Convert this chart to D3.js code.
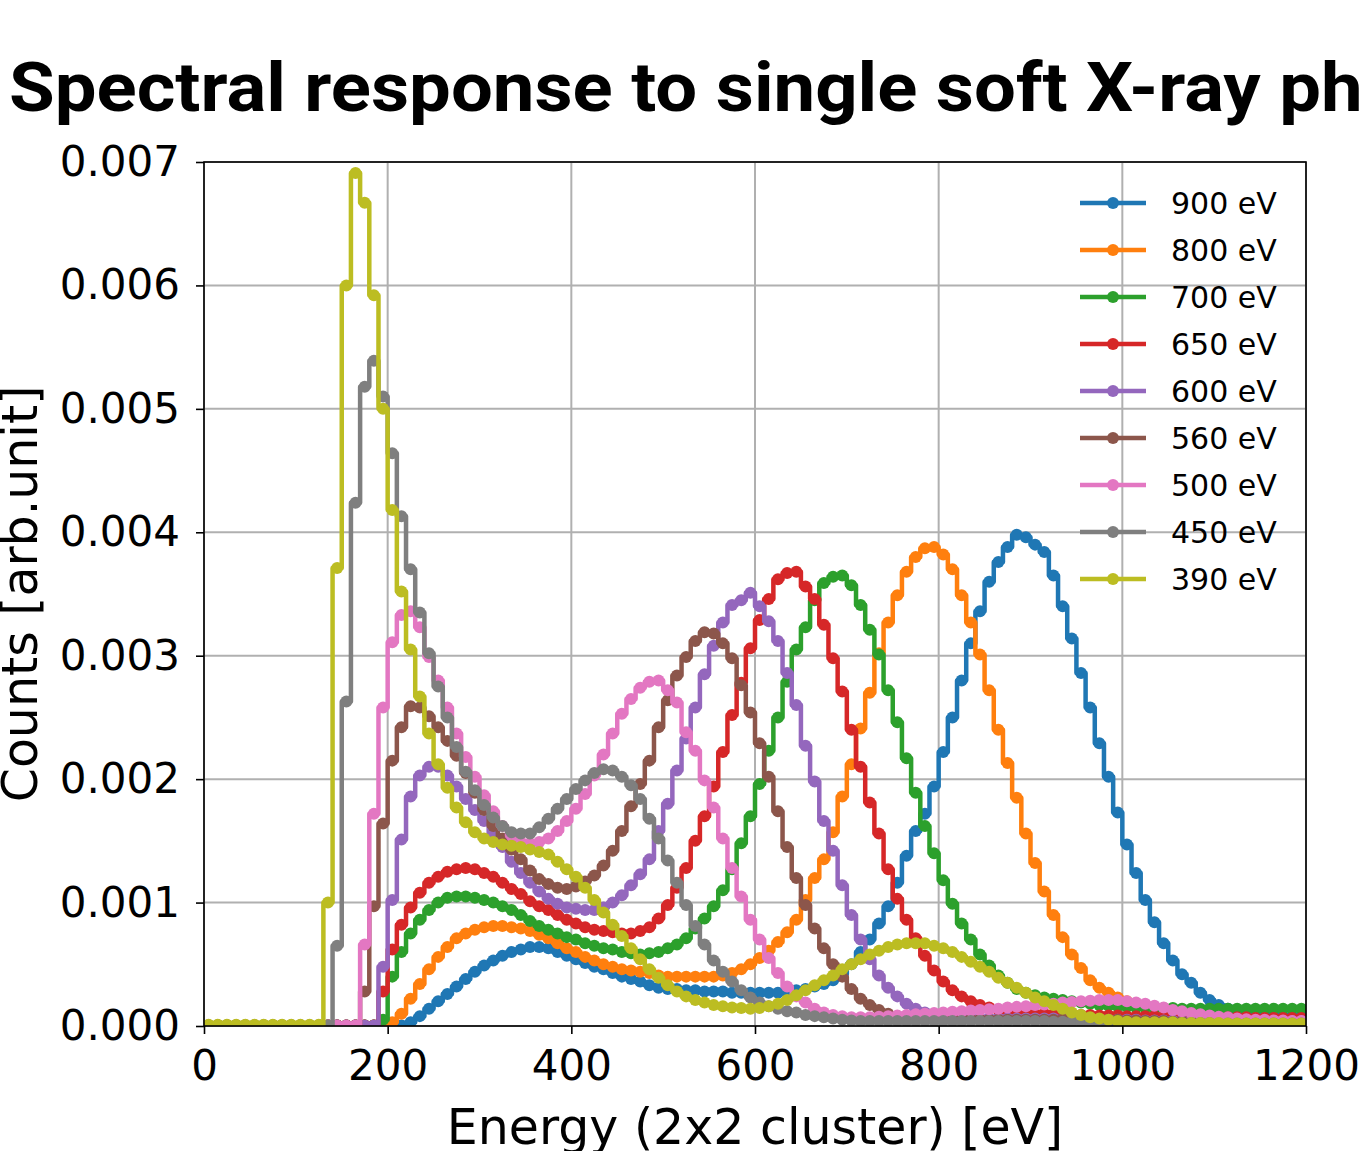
<!DOCTYPE html>
<html>
<head>
<meta charset="utf-8">
<title>Spectral response to single soft X-ray photons</title>
<style>
  body { margin: 0; background: #fff; }
  svg { display: block; font-family: "DejaVu Sans", sans-serif; }
  .grid line { stroke: #b0b0b0; stroke-width: 2; }
  .axis path { display: none; }
  .axis line { stroke: #000; stroke-width: 1.6; }
  .axis text { font-family: "DejaVu Sans", sans-serif; font-size: 42px; fill: #000; }
  .frame { fill: none; stroke: #000; stroke-width: 1.6; }
  .series path { fill: none; stroke-width: 4.5; stroke-linejoin: round; }
  .legend text { font-size: 30px; fill: #000; }
  .title { font-family: Roboto, "Open Sans", sans-serif; font-weight: 700; font-size: 68px; }
</style>
</head>
<body>
<svg width="1360" height="1151"></svg>
<script src="https://cdn.jsdelivr.net/npm/d3@7"></script>
<script>
// 10 eV bins from 0 to 1200 eV, counts given in units of 1e-3
const binWidth = 10;
const energyMax = 1200;
const labels = ['900 eV', '800 eV', '700 eV', '650 eV', '600 eV', '560 eV', '500 eV', '450 eV', '390 eV'];
const colors = ['#1f77b4', '#ff7f0e', '#2ca02c', '#d62728', '#9467bd', '#8c564b', '#e377c2', '#7f7f7f', '#bcbd22'];
const xTicks = [0, 200, 400, 600, 800, 1000, 1200];
const yTicks = [0, 0.001, 0.002, 0.003, 0.004, 0.005, 0.006, 0.007];

const s900 = [
  0.005,0.005,0.005,0.005,0.005,0.005,0.005,0.005,0.005,0.005,
  0.005,0.005,0.005,0.005,0.005,0.005,0.005,0.005,0.005,0.005,
  0.005,0.005,0.03,0.08,0.14,0.20,0.26,0.32,0.38,0.44,
  0.49,0.53,0.57,0.60,0.62,0.64,0.64,0.63,0.60,0.57,
  0.54,0.51,0.48,0.46,0.43,0.40,0.38,0.36,0.33,0.31,
  0.30,0.30,0.29,0.29,0.28,0.28,0.28,0.27,0.27,0.27,
  0.27,0.27,0.27,0.28,0.29,0.30,0.32,0.34,0.37,0.42,
  0.50,0.60,0.70,0.83,0.97,1.16,1.38,1.58,1.72,1.94,
  2.22,2.50,2.80,3.10,3.36,3.60,3.76,3.88,3.98,3.96,
  3.90,3.84,3.65,3.40,3.14,2.86,2.58,2.29,2.02,1.73,
  1.47,1.24,1.02,0.84,0.67,0.53,0.42,0.35,0.27,0.21,
  0.17,0.14,0.12,0.11,0.10,0.09,0.09,0.08,0.08,0.08
];
const s800 = [
  0.005,0.005,0.005,0.005,0.005,0.005,0.005,0.005,0.005,0.005,
  0.005,0.005,0.005,0.005,0.005,0.005,0.005,0.005,0.005,0.005,
  0.03,0.10,0.22,0.34,0.46,0.56,0.64,0.71,0.75,0.78,
  0.80,0.81,0.81,0.80,0.79,0.77,0.74,0.71,0.67,0.63,
  0.60,0.56,0.53,0.50,0.48,0.46,0.45,0.44,0.43,0.41,
  0.40,0.40,0.40,0.40,0.40,0.40,0.41,0.43,0.46,0.50,
  0.55,0.61,0.68,0.76,0.86,1.02,1.20,1.35,1.57,1.86,
  2.12,2.41,2.70,3.02,3.27,3.49,3.68,3.80,3.87,3.88,
  3.82,3.70,3.49,3.27,3.01,2.72,2.40,2.13,1.85,1.56,
  1.32,1.09,0.90,0.72,0.58,0.47,0.37,0.31,0.27,0.23,
  0.20,0.17,0.15,0.12,0.10,0.09,0.08,0.07,0.06,0.055,
  0.05,0.05,0.05,0.045,0.045,0.045,0.04,0.04,0.04,0.04
];
const s700 = [
  0.005,0.005,0.005,0.005,0.005,0.005,0.005,0.005,0.005,0.005,
  0.005,0.005,0.005,0.005,0.005,0.005,0.005,0.005,0.005,0.05,
  0.40,0.60,0.75,0.86,0.94,1.00,1.04,1.05,1.05,1.04,
  1.02,1.00,0.97,0.94,0.90,0.85,0.81,0.78,0.75,0.72,
  0.70,0.67,0.65,0.63,0.62,0.60,0.59,0.58,0.59,0.60,
  0.63,0.66,0.71,0.79,0.87,0.97,1.10,1.27,1.48,1.70,
  1.96,2.23,2.50,2.79,3.05,3.23,3.45,3.59,3.64,3.65,
  3.57,3.41,3.21,3.01,2.72,2.46,2.17,1.89,1.62,1.40,
  1.18,0.99,0.83,0.70,0.58,0.49,0.41,0.35,0.30,0.27,
  0.25,0.23,0.22,0.21,0.20,0.19,0.18,0.17,0.165,0.16,
  0.155,0.15,0.15,0.145,0.145,0.145,0.14,0.14,0.14,0.14,
  0.14,0.14,0.14,0.14,0.14,0.14,0.14,0.14,0.14,0.14
];
const s650 = [
  0.005,0.005,0.005,0.005,0.005,0.005,0.005,0.005,0.005,0.005,
  0.005,0.005,0.005,0.005,0.005,0.005,0.005,0.005,0.005,0.28,
  0.62,0.82,0.96,1.08,1.16,1.21,1.25,1.27,1.28,1.27,
  1.24,1.21,1.16,1.11,1.07,1.01,0.97,0.94,0.90,0.86,
  0.83,0.80,0.78,0.77,0.76,0.75,0.75,0.77,0.80,0.87,
  0.98,1.12,1.28,1.50,1.70,1.94,2.22,2.52,2.78,3.06,
  3.29,3.46,3.62,3.67,3.68,3.56,3.46,3.25,2.98,2.71,
  2.40,2.10,1.81,1.56,1.27,1.03,0.86,0.71,0.57,0.45,
  0.36,0.29,0.24,0.20,0.17,0.15,0.13,0.12,0.11,0.105,
  0.10,0.10,0.095,0.095,0.09,0.09,0.09,0.085,0.085,0.085,
  0.08,0.08,0.08,0.08,0.075,0.075,0.075,0.075,0.07,0.07,
  0.07,0.07,0.07,0.07,0.065,0.065,0.065,0.065,0.065,0.065
];
const s600 = [
  0.005,0.005,0.005,0.005,0.005,0.005,0.005,0.005,0.005,0.005,
  0.005,0.005,0.005,0.005,0.005,0.005,0.005,0.005,0.005,0.48,
  1.02,1.51,1.86,2.03,2.10,2.10,2.03,1.94,1.84,1.75,
  1.66,1.56,1.45,1.33,1.24,1.16,1.09,1.03,0.99,0.96,
  0.95,0.94,0.94,0.96,1.00,1.06,1.14,1.23,1.35,1.58,
  1.80,2.07,2.33,2.58,2.85,3.08,3.27,3.41,3.45,3.51,
  3.40,3.28,3.12,2.86,2.60,2.27,1.98,1.66,1.42,1.14,
  0.90,0.70,0.54,0.41,0.31,0.24,0.18,0.14,0.11,0.09,
  0.07,0.06,0.06,0.06,0.06,0.06,0.06,0.06,0.06,0.06,
  0.06,0.06,0.06,0.055,0.055,0.055,0.05,0.05,0.05,0.05,
  0.05,0.05,0.045,0.045,0.045,0.045,0.04,0.04,0.04,0.04,
  0.04,0.04,0.04,0.04,0.04,0.04,0.04,0.04,0.04,0.04
];
const s560 = [
  0.005,0.005,0.005,0.005,0.005,0.005,0.005,0.005,0.005,0.005,
  0.005,0.005,0.005,0.005,0.005,0.005,0.005,0.28,0.97,1.64,
  2.15,2.42,2.59,2.58,2.51,2.42,2.31,2.19,2.05,1.89,
  1.75,1.62,1.52,1.43,1.35,1.26,1.19,1.15,1.12,1.11,
  1.13,1.17,1.22,1.30,1.42,1.58,1.78,1.96,2.15,2.42,
  2.64,2.84,2.99,3.12,3.19,3.18,3.10,2.98,2.76,2.54,
  2.29,2.02,1.74,1.45,1.20,0.98,0.79,0.63,0.50,0.40,
  0.30,0.22,0.17,0.13,0.10,0.08,0.07,0.06,0.05,0.05,
  0.05,0.05,0.05,0.05,0.05,0.05,0.05,0.05,0.05,0.05,
  0.05,0.05,0.05,0.055,0.055,0.055,0.055,0.05,0.05,0.05,
  0.045,0.045,0.04,0.04,0.04,0.035,0.035,0.035,0.03,0.03,
  0.03,0.03,0.03,0.03,0.03,0.03,0.03,0.03,0.03,0.03
];
const s500 = [
  0.005,0.005,0.005,0.005,0.005,0.005,0.005,0.005,0.005,0.005,
  0.005,0.005,0.005,0.005,0.005,0.005,0.005,0.66,1.72,2.58,
  3.11,3.33,3.36,3.23,2.99,2.80,2.58,2.37,2.18,2.02,
  1.87,1.74,1.62,1.54,1.49,1.48,1.49,1.52,1.58,1.66,
  1.76,1.88,2.03,2.20,2.37,2.53,2.65,2.74,2.79,2.80,
  2.72,2.62,2.38,2.23,1.99,1.77,1.52,1.28,1.05,0.86,
  0.70,0.55,0.43,0.32,0.24,0.19,0.14,0.11,0.09,0.08,
  0.07,0.07,0.07,0.075,0.08,0.085,0.09,0.095,0.10,0.105,
  0.11,0.115,0.12,0.125,0.13,0.135,0.14,0.15,0.155,0.16,
  0.17,0.175,0.18,0.19,0.195,0.20,0.205,0.21,0.21,0.21,
  0.20,0.19,0.18,0.165,0.15,0.13,0.12,0.105,0.095,0.085,
  0.075,0.07,0.06,0.055,0.05,0.05,0.045,0.045,0.04,0.04
];
const s450 = [
  0.005,0.005,0.005,0.005,0.005,0.005,0.005,0.005,0.005,0.005,
  0.005,0.005,0.005,0.005,0.65,2.63,4.24,5.18,5.39,5.10,
  4.64,4.13,3.70,3.35,3.02,2.75,2.50,2.26,2.06,1.91,
  1.79,1.69,1.62,1.57,1.56,1.56,1.61,1.68,1.76,1.84,
  1.92,1.99,2.05,2.08,2.07,2.02,1.95,1.84,1.68,1.52,
  1.34,1.16,0.98,0.81,0.66,0.53,0.44,0.36,0.29,0.23,
  0.19,0.16,0.14,0.12,0.11,0.09,0.08,0.07,0.06,0.05,
  0.045,0.04,0.04,0.04,0.04,0.04,0.04,0.04,0.04,0.04,
  0.04,0.04,0.04,0.04,0.04,0.04,0.04,0.04,0.04,0.04,
  0.04,0.04,0.035,0.035,0.035,0.035,0.03,0.03,0.03,0.03,
  0.025,0.025,0.025,0.025,0.025,0.025,0.025,0.025,0.025,0.025,
  0.02,0.02,0.02,0.02,0.02,0.02,0.02,0.02,0.02,0.02
];
const s390 = [
  0.01,0.01,0.01,0.01,0.01,0.01,0.01,0.01,0.01,0.01,
  0.01,0.01,0.01,1.00,3.71,6.00,6.91,6.67,5.92,5.00,
  4.18,3.52,3.05,2.67,2.37,2.12,1.93,1.77,1.65,1.57,
  1.52,1.49,1.47,1.46,1.45,1.43,1.41,1.39,1.33,1.27,
  1.21,1.12,1.02,0.92,0.82,0.73,0.63,0.54,0.46,0.39,
  0.33,0.28,0.24,0.21,0.19,0.17,0.16,0.15,0.145,0.14,
  0.145,0.16,0.18,0.21,0.25,0.29,0.33,0.37,0.41,0.46,
  0.50,0.54,0.58,0.61,0.64,0.66,0.67,0.67,0.67,0.65,
  0.63,0.60,0.56,0.52,0.48,0.44,0.39,0.35,0.31,0.27,
  0.23,0.20,0.17,0.14,0.11,0.09,0.07,0.06,0.05,0.04,
  0.035,0.03,0.03,0.03,0.03,0.03,0.025,0.025,0.025,0.025,
  0.025,0.02,0.02,0.02,0.02,0.02,0.02,0.02,0.02,0.02
];
const seriesValues = [s900, s800, s700, s650, s600, s560, s500, s450, s390];

// bin centres
const energies = d3.range(binWidth / 2, energyMax, binWidth);

const svg = d3.select('svg');
const margin = { left: 204, top: 162, right: 1306, bottom: 1026 };

const x = d3.scaleLinear().domain([0, energyMax]).range([margin.left, margin.right]);
const y = d3.scaleLinear().domain([0, 0.007]).range([margin.bottom, margin.top]);

// title (runs off the right edge like the original)
const titleText = 'Spectral response to single soft X-ray photons';
const title = svg.append('text')
    .attr('class', 'title')
    .attr('x', 9)
    .attr('y', 111)
    .text(titleText);

function fitTitle() {
    // squeeze so that "...X-ray" ends where it does in the original (x ~ 1262)
    const probe = svg.append('text').attr('class', 'title')
        .attr('x', 0).attr('y', -200)
        .text('Spectral response to single soft X-ray');
    const w = probe.node().getComputedTextLength();
    probe.remove();
    const sx = (1262 - 10) / w;
    title.attr('transform', `translate(9,0) scale(${sx},1) translate(-9,0)`);
}
fitTitle();
if (document.fonts) document.fonts.ready.then(fitTitle);

// grid
svg.append('g').attr('class', 'grid')
    .selectAll('line.v').data(xTicks).join('line')
    .attr('x1', d => x(d)).attr('x2', d => x(d))
    .attr('y1', margin.top).attr('y2', margin.bottom);
svg.append('g').attr('class', 'grid')
    .selectAll('line.h').data(yTicks).join('line')
    .attr('y1', d => y(d)).attr('y2', d => y(d))
    .attr('x1', margin.left).attr('x2', margin.right);

// data
svg.append('defs').append('clipPath').attr('id', 'plot')
    .append('rect')
    .attr('x', margin.left).attr('y', margin.top)
    .attr('width', margin.right - margin.left)
    .attr('height', margin.bottom - margin.top);

const line = d3.line()
    .x(d => x(d[0]))
    .y(d => y(d[1]))
    .curve(d3.curveStep);

const plot = svg.append('g').attr('clip-path', 'url(#plot)');
seriesValues.forEach((vals, i) => {
    const pts = energies.map((e, k) => [e, vals[k] * 1e-3]);
    const g = plot.append('g').attr('class', 'series');
    g.append('path').attr('d', line(pts)).attr('stroke', colors[i]);
    g.selectAll('circle').data(pts).join('circle')
        .attr('cx', d => x(d[0]))
        .attr('cy', d => y(d[1]))
        .attr('r', 6)
        .attr('fill', colors[i]);
});

// axes
svg.append('g').attr('class', 'axis')
    .attr('transform', `translate(0,${margin.bottom})`)
    .call(d3.axisBottom(x).tickValues(xTicks).tickSize(8).tickPadding(16).tickFormat(d3.format('d')));
svg.append('g').attr('class', 'axis')
    .attr('transform', `translate(${margin.left},0)`)
    .call(d3.axisLeft(y).tickValues(yTicks).tickSize(8).tickPadding(16).tickFormat(d3.format('.3f')));

svg.append('rect').attr('class', 'frame')
    .attr('x', margin.left).attr('y', margin.top)
    .attr('width', margin.right - margin.left)
    .attr('height', margin.bottom - margin.top);

// axis labels
svg.append('text')
    .attr('x', (margin.left + margin.right) / 2)
    .attr('y', 1144)
    .attr('text-anchor', 'middle')
    .style('font-size', '49px')
    .text('Energy (2x2 cluster) [eV]');
svg.append('text')
    .attr('transform', `translate(37,${(margin.top + margin.bottom) / 2}) rotate(-90)`)
    .attr('text-anchor', 'middle')
    .style('font-size', '49px')
    .text('Counts [arb.unit]');

// legend
const legend = svg.append('g').attr('class', 'legend');
labels.forEach((lab, i) => {
    const ly = 203 + i * 47;
    legend.append('line')
        .attr('x1', 1080).attr('x2', 1146).attr('y1', ly).attr('y2', ly)
        .attr('stroke', colors[i]).attr('stroke-width', 4.5);
    legend.append('circle')
        .attr('cx', 1113).attr('cy', ly).attr('r', 6).attr('fill', colors[i]);
    legend.append('text')
        .attr('x', 1171).attr('y', ly).attr('dy', '0.36em')
        .text(lab);
});
</script>
</body>
</html>
